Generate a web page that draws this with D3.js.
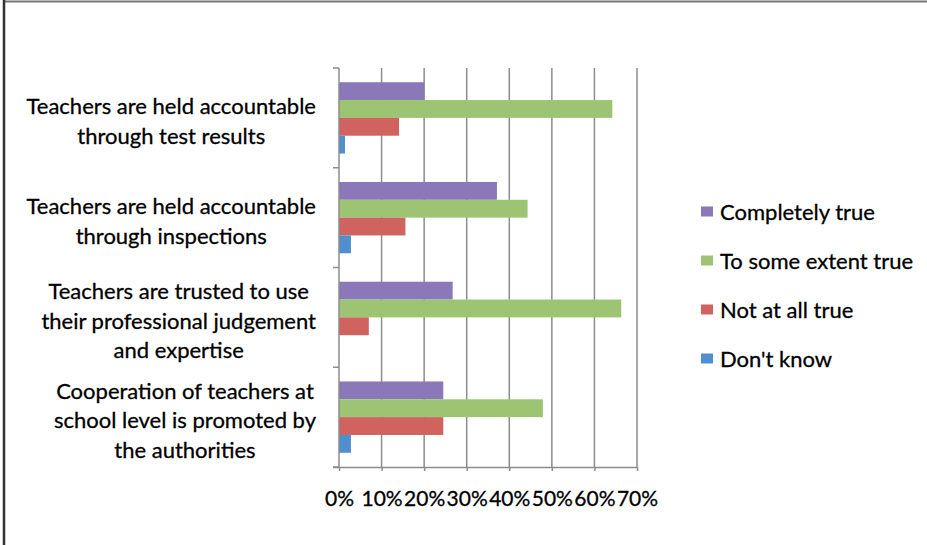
<!DOCTYPE html>
<html>
<head>
<meta charset="utf-8">
<script src="https://cdn.jsdelivr.net/npm/d3@7"></script>
<style>
  html, body { margin: 0; padding: 0; background: #fff; }
  svg { display: block; }
  text { font-family: Lato, "Open Sans", sans-serif; fill: #000; stroke: #000; stroke-width: 0.3px; }
</style>
</head>
<body>
<script>
// ---- data ----
const categories = [
  ["Teachers are held accountable", "through test results"],
  ["Teachers are held accountable", "through inspections"],
  ["Teachers are trusted to use", "their professional judgement", "and expertise"],
  ["Cooperation of teachers at", "school level is promoted by", "the authorities"]
];
const seriesNames = ["Completely true", "To some extent true", "Not at all true", "Don't know"];
const completelyTrue = [0.200, 0.371, 0.267, 0.245];
const someExtentTrue = [0.642, 0.443, 0.663, 0.479];
const notAtAllTrue   = [0.141, 0.156, 0.070, 0.245];
const dontKnow       = [0.014, 0.028, 0.000, 0.028];
const xTicks = [0, 0.1, 0.2, 0.3, 0.4, 0.5, 0.6, 0.7];
const seriesColors = ["#8a78b8", "#9dc473", "#d0625f", "#4f8fd0"];

const seriesValues = [completelyTrue, someExtentTrue, notAtAllTrue, dontKnow];
const W = 927, H = 545;
const svg = d3.select("body").append("svg").attr("width", W).attr("height", H);

// frame
svg.append("line").attr("x1", 3).attr("x2", W).attr("y1", 1.5).attr("y2", 1.5)
  .attr("stroke", "#777").attr("stroke-width", 2);
svg.append("line").attr("x1", 4).attr("x2", 4).attr("y1", 0).attr("y2", H)
  .attr("stroke", "#333").attr("stroke-width", 2.5);

const plot = { left: 339, right: 637, top: 68, bottom: 467 };
const x = d3.scaleLinear().domain([0, 0.7]).range([plot.left, plot.right]);
const catIdx = categories.map((d, i) => i);
const y0 = d3.scaleBand().domain(catIdx).range([plot.top, plot.bottom])
  .paddingInner(0.285).paddingOuter(0.1425);
const y1 = d3.scaleBand().domain(d3.range(seriesNames.length)).range([0, y0.bandwidth()]);

const gridColor = "#8c8c8c";
// gridlines
svg.append("g").selectAll("line").data(xTicks.slice(1)).join("line")
  .attr("x1", d => x(d)).attr("x2", d => x(d))
  .attr("y1", plot.top).attr("y2", plot.bottom)
  .attr("stroke", gridColor).attr("stroke-width", 1.5);

// bars
const groups = svg.append("g").selectAll("g").data(catIdx).join("g")
  .attr("transform", i => `translate(0,${y0(i)})`);
groups.selectAll("rect")
  .data(i => seriesValues.map((vals, s) => ({ s, v: vals[i] })))
  .join("rect")
  .attr("x", x(0))
  .attr("y", d => y1(d.s))
  .attr("width", d => x(d.v) - x(0))
  .attr("height", y1.bandwidth())
  .attr("fill", d => seriesColors[d.s]);

// bottom axis
const xAxis = d3.axisBottom(x).tickValues(xTicks).tickFormat(d3.format(".0%")).tickSize(4).tickSizeOuter(0);
const gx = svg.append("g").attr("transform", `translate(0,${plot.bottom})`).call(xAxis);
gx.select(".domain").attr("stroke", gridColor).attr("stroke-width", 1.5)
  .attr("d", `M${plot.left - 6},0.5H${plot.right}`);
gx.selectAll(".tick line").attr("stroke", gridColor).attr("stroke-width", 1.5);
gx.selectAll(".tick text").attr("y", 32).attr("dy", "0.35em")
  .style("font-size", "21px").style("fill", "#000")
  .style("font-family", "Lato, 'Open Sans', sans-serif");

// left axis with boundary ticks
const step = y0.step();
const boundaries = d3.range(categories.length + 1).map(i => plot.top + i * step);
svg.append("line").attr("x1", plot.left).attr("x2", plot.left)
  .attr("y1", plot.top).attr("y2", plot.bottom)
  .attr("stroke", gridColor).attr("stroke-width", 1.5);
svg.append("g").selectAll("line").data(boundaries).join("line")
  .attr("x1", plot.left - 6).attr("x2", plot.left)
  .attr("y1", d => d).attr("y2", d => d)
  .attr("stroke", gridColor).attr("stroke-width", 1.5);

// category labels (block right-aligned, lines centered)
const labelFont = 22, lineH = 29.5, labelRight = 316;
const lab = svg.append("g");
categories.forEach((lines, i) => {
  const cy = y0(i) + y0.bandwidth() / 2 + 3.5;
  const t = lab.append("text").style("font-size", labelFont + "px").attr("text-anchor", "middle");
  lines.forEach((ln, j) => {
    t.append("tspan").text(ln)
      .attr("y", cy + (j - (lines.length - 1) / 2) * lineH)
      .attr("dy", "0.35em");
  });
  let maxW = 0;
  t.selectAll("tspan").each(function () { maxW = Math.max(maxW, this.getComputedTextLength()); });
  t.selectAll("tspan").attr("x", labelRight - maxW / 2);
});

// legend
const legend = svg.append("g");
seriesNames.forEach((name, s) => {
  const cy = 212 + s * 49;
  legend.append("rect").attr("x", 701).attr("y", cy - 5.5).attr("width", 12).attr("height", 10)
    .attr("fill", seriesColors[s]);
  legend.append("text").attr("x", 720).attr("y", cy).attr("dy", "0.35em")
    .style("font-size", "22px").text(name);
});
</script>
</body>
</html>
